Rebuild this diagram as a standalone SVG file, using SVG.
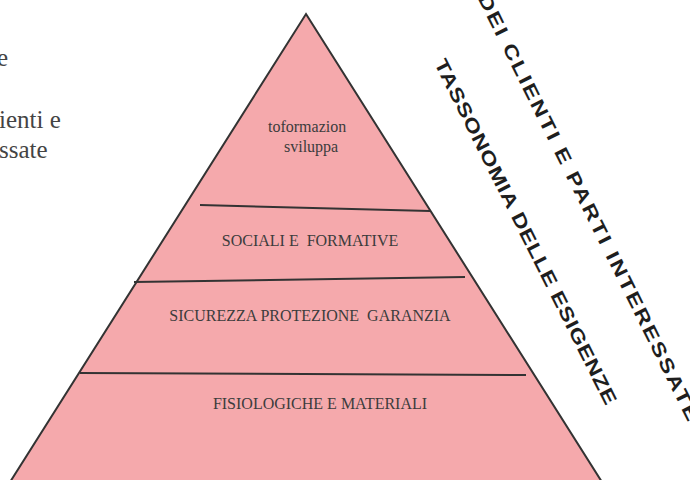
<svg xmlns="http://www.w3.org/2000/svg" width="690" height="480" viewBox="0 0 690 480">
  <style>
    .side { font-family: "Liberation Serif", "Times New Roman", serif; font-size: 25px; fill: #444444; }
    .tier { font-family: "Liberation Serif", "Times New Roman", serif; font-size: 16px; fill: #3c3c3c; }
    .band { font-family: "Liberation Sans", Arial, sans-serif; font-size: 19px; font-weight: bold; fill: #1e1e1e; }
    .divider { stroke: #333333; stroke-width: 2; fill: none; }
  </style>
  <rect width="690" height="480" fill="#ffffff"/>

  <!-- clipped text at the left edge -->
  <g id="left-text">
    <text class="side" x="-3" y="66">e</text>
    <text class="side" x="-1" y="128">ienti e</text>
    <text class="side" x="-1" y="158">ssate</text>
  </g>

  <!-- pyramid body -->
  <g id="pyramid">
    <polygon points="306,14 607,490 5,490" fill="#f5a9ac" stroke="#333333" stroke-width="2" stroke-linejoin="miter"/>
  </g>

  <!-- dividing lines between the levels -->
  <g id="dividers">
    <line class="divider" x1="200" y1="205" x2="430" y2="211"/>
    <line class="divider" x1="134" y1="282" x2="465" y2="277"/>
    <line class="divider" x1="80" y1="373" x2="526" y2="375"/>
  </g>

  <g id="level-top">
    <text class="tier" x="268" y="132">toformazion</text>
    <text class="tier" x="284" y="152">sviluppa</text>
  </g>
  <g id="level-social">
    <text class="tier" x="310" y="246" text-anchor="middle" xml:space="preserve">SOCIALI E  FORMATIVE</text>
  </g>
  <g id="level-safety">
    <text class="tier" x="310" y="321" text-anchor="middle" xml:space="preserve">SICUREZZA PROTEZIONE  GARANZIA</text>
  </g>
  <g id="level-physio">
    <text class="tier" x="320" y="409" text-anchor="middle">FISIOLOGICHE E MATERIALI</text>
  </g>

  <!-- slanted title bands: glyphs widened along the run -->
  <g id="title-taxonomy">
    <text class="band" transform="translate(433.9,63) rotate(63.4) scale(1.25,1)" textLength="307" lengthAdjust="spacing">TASSONOMIA DELLE ESIGENZE</text>
  </g>
  <g id="title-stakeholders">
    <text class="band" transform="translate(477.5,-2) rotate(63.6) scale(1.25,1)" textLength="379" lengthAdjust="spacing">DEI CLIENTI E PARTI INTERESSATE</text>
  </g>
</svg>
